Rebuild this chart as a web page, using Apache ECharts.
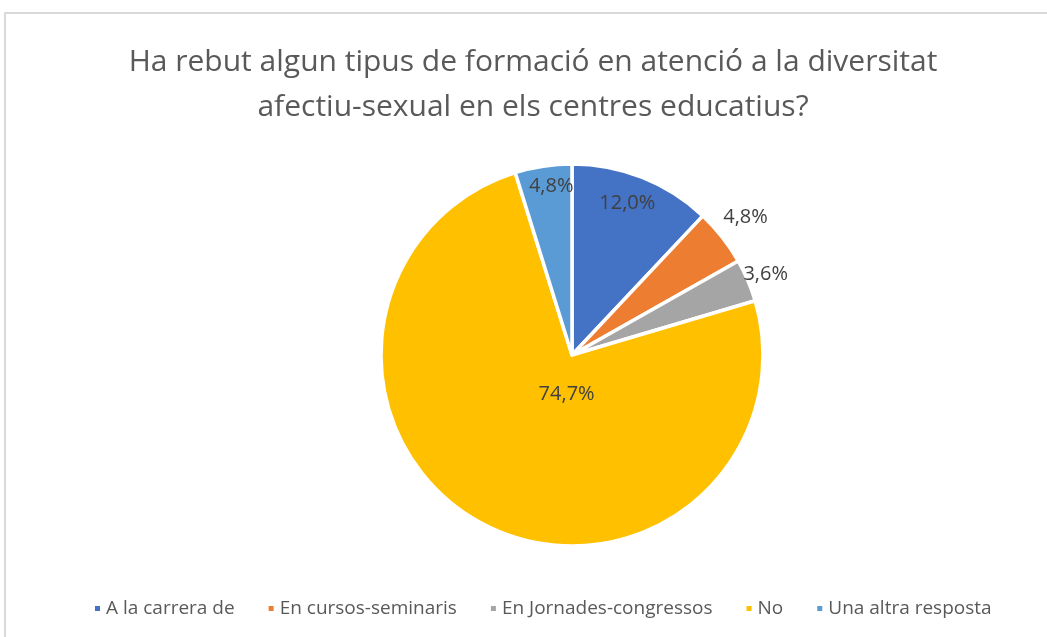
<!DOCTYPE html>
<html>
<head>
<meta charset="utf-8">
<script src="https://cdn.jsdelivr.net/npm/echarts@6/dist/echarts.min.js"></script>
<style>
    html, body {
        margin: 0;
        padding: 0;
        background: #fff;
        overflow: hidden;
    }
    .frame {
        position: absolute;
        left: 4px;
        top: 12px;
        width: 1100px;
        height: 700px;
        border: 2px solid #d9d9d9;
    }
    #pieChart {
        position: absolute;
        left: 0;
        top: 0;
        width: 1047px;
        height: 637px;
    }
</style>
</head>
<body>
<div class="frame"></div>
<div id="pieChart"></div>
<script>
    // dades llegides del gràfic
    const categories = ['A la carrera de', 'En cursos-seminaris', 'En Jornades-congressos', 'No', 'Una altra resposta'];
    const percentages = [12.0, 4.8, 3.6, 74.7, 4.8];
    const sliceColors = ['#4472C4', '#ED7D31', '#A5A5A5', '#FFC000', '#5B9BD5'];

    // desplaçament de cada etiqueta respecte a la posició "inside"
    const labelShift = [[19, -60], [96, -77], [103, -42], [41, -48], [-6, -71]];

    const pieData = categories.map((name, i) => ({
        name: name,
        value: percentages[i],
        itemStyle: {color: sliceColors[i]}
    }));

    let option = {
        animation: false,
        title: {
            text: 'Ha rebut algun tipus de formació en atenció a la diversitat\nafectiu-sexual en els centres educatius?',
            left: 528,
            top: 35,
            textAlign: 'center',
            textStyle: {
                color: '#595959',
                fontSize: 30,
                fontWeight: 'normal',
                fontFamily: 'Open Sans',
                lineHeight: 45
            }
        },
        legend: {
            data: categories,
            bottom: 14,
            left: 88,
            icon: 'rect',
            itemWidth: 7,
            itemHeight: 7,
            itemGap: 32,
            textStyle: {
                color: '#595959',
                fontSize: 19,
                fontFamily: 'Open Sans'
            }
        },
        series: [
            {
                type: 'pie',
                center: [572, 355],
                radius: 191,
                startAngle: 90,
                clockwise: true,
                data: pieData,
                itemStyle: {
                    borderColor: '#fff',
                    borderWidth: 3.5
                },
                label: {
                    position: 'inside',
                    color: '#404040',
                    fontSize: 20,
                    fontFamily: 'Open Sans',
                    formatter: p => p.value.toFixed(1).replace('.', ',') + '%'
                },
                labelLine: {show: false},
                labelLayout: params => ({
                    dx: labelShift[params.dataIndex][0],
                    dy: labelShift[params.dataIndex][1]
                })
            }
        ]
    };

    let chartPie = echarts.init(document.getElementById('pieChart'));
    chartPie.setOption(option);
    window.addEventListener('resize', function () {
        chartPie.resize();
    });
</script>
</body>
</html>
